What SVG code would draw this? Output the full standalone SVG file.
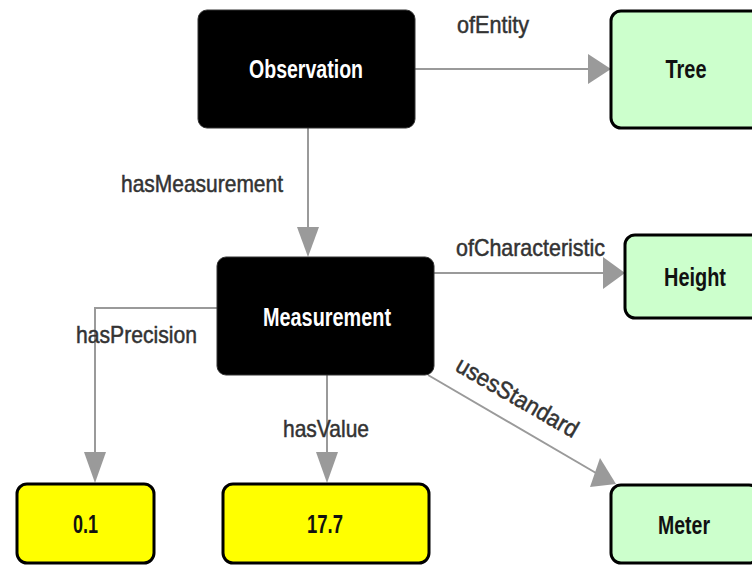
<svg xmlns="http://www.w3.org/2000/svg" width="752" height="565" viewBox="0 0 752 565">
<style>
.dark rect{fill:#000;stroke:#333;stroke-width:1}
.green rect{fill:#ccffcc;stroke:#000;stroke-width:3}
.yellow rect{fill:#ffff00;stroke:#000;stroke-width:3}
.nt{font-family:"Liberation Sans",Arial,sans-serif;font-weight:bold;font-size:25px;text-anchor:middle}
.dark text{fill:#fff}
.green text,.yellow text{fill:#111}
.edge line,.edge polyline{stroke:#9a9a9a;stroke-width:2;fill:none}
.edge polygon{fill:#9a9a9a;stroke:none}
.lbl{font-family:"Liberation Sans",Arial,sans-serif;font-size:24px;fill:#333;stroke:#333;stroke-width:0.5}
</style>
<rect width="752" height="565" fill="#fff"/>
<g id="connectors" class="edge">
  <line x1="415" y1="69" x2="589" y2="69"/>
  <polygon points="588,54 588,84 611,69"/>
  <line x1="308" y1="128" x2="308" y2="228"/>
  <polygon points="297,227 319,227 308,257"/>
  <line x1="434" y1="273" x2="604" y2="273"/>
  <polygon points="603,257 603,289 625,273"/>
  <polyline points="217,308 95,308 95,453"/>
  <polygon points="84,452 106,452 95,483"/>
  <line x1="327" y1="375" x2="327" y2="453"/>
  <polygon points="316,452 338,452 327,483"/>
  <line x1="428" y1="375" x2="596" y2="473"/>
  <polygon points="600,458 590,487 616,484"/>
  <text class="lbl" x="457" y="33" textLength="72" lengthAdjust="spacingAndGlyphs">ofEntity</text>
  <text class="lbl" x="121" y="192" textLength="162" lengthAdjust="spacingAndGlyphs">hasMeasurement</text>
  <text class="lbl" x="456" y="256" textLength="149" lengthAdjust="spacingAndGlyphs">ofCharacteristic</text>
  <text class="lbl" x="76" y="343" textLength="121" lengthAdjust="spacingAndGlyphs">hasPrecision</text>
  <text class="lbl" x="283" y="437" textLength="86" lengthAdjust="spacingAndGlyphs">hasValue</text>
  <text class="lbl" x="0" y="0" transform="translate(454,370) rotate(30)" textLength="137" lengthAdjust="spacingAndGlyphs">usesStandard</text>
</g>
<g id="observation" class="dark">
  <rect x="198" y="10" width="217" height="118" rx="9"/>
  <text class="nt" x="306" y="78" textLength="114" lengthAdjust="spacingAndGlyphs">Observation</text>
</g>
<g id="tree" class="green">
  <rect x="611" y="11" width="152" height="117" rx="10"/>
  <text class="nt" x="686" y="78" textLength="41" lengthAdjust="spacingAndGlyphs">Tree</text>
</g>
<g id="measurement" class="dark">
  <rect x="217" y="257" width="217" height="118" rx="9"/>
  <text class="nt" x="327" y="326" textLength="128" lengthAdjust="spacingAndGlyphs">Measurement</text>
</g>
<g id="height" class="green">
  <rect x="625" y="235" width="140" height="83" rx="10"/>
  <text class="nt" x="695" y="286" textLength="62" lengthAdjust="spacingAndGlyphs">Height</text>
</g>
<g id="meter" class="green">
  <rect x="611" y="485" width="148" height="78" rx="10"/>
  <text class="nt" x="684" y="534" textLength="52" lengthAdjust="spacingAndGlyphs">Meter</text>
</g>
<g id="precision" class="yellow">
  <rect x="17" y="484" width="137" height="79" rx="10"/>
  <text class="nt" x="85.5" y="533" textLength="25" lengthAdjust="spacingAndGlyphs">0.1</text>
</g>
<g id="value" class="yellow">
  <rect x="223" y="484" width="206" height="79" rx="10"/>
  <text class="nt" x="325" y="533" textLength="36" lengthAdjust="spacingAndGlyphs">17.7</text>
</g>
</svg>
